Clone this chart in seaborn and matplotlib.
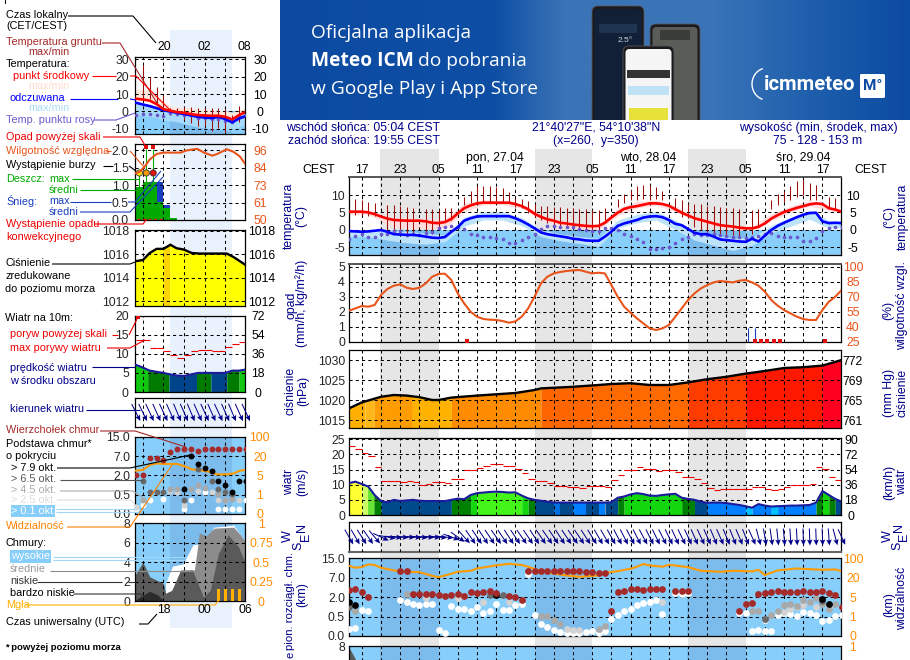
import numpy as np
import matplotlib
matplotlib.use("Agg")
import matplotlib.pyplot as plt
import seaborn as sns
from matplotlib.colors import LinearSegmentedColormap
from matplotlib.patches import FancyBboxPatch, Rectangle

W, H = 910, 660
DASH = (0, (3, 3))
NAVY = "#00008b"
ORANGE = "#ff8c00"
RH_COL = "#e8541a"
SKY = "#87cefa"
SKY_NIGHT = "#7cbcec"
DARKRED = "#a52a2a"
LEFT_FS = 7.8

# ---- main meteogram, hourly from 15:00 ----
hours = list(range(78))
night_bands = [(4.9, 14), (29, 38), (52.9, 62)]
t_mean = [5.2,5.2,5.2,5.0,4.5,3.8,3.2,2.8,2.7,2.6,2.6,2.6,2.4,2.0,1.9,2.2,3.1,4.7,6.2,7.0,7.6,7.8,7.8,7.8,7.8,7.8,7.4,6.8,5.9,4.6,3.7,3.0,2.6,2.0,1.8,1.5,1.3,1.1,1.0,1.1,2.0,3.5,4.9,6.0,6.5,6.8,7.2,7.6,7.6,7.4,6.9,5.9,4.9,4.1,3.3,2.8,2.3,1.8,1.3,1.1,0.9,0.6,0.4,0.4,0.8,1.8,3.2,4.2,5.1,5.7,6.3,6.8,7.3,7.6,7.4,6.2,5.8,5.2]
t_app = [-0.4,-0.5,-0.6,-0.5,-0.3,-0.1,-0.6,-1.3,-1.4,-1.5,-1.5,-1.7,-2.0,-2.3,-2.4,-2.1,-0.6,0.7,2.6,3.3,3.8,3.9,3.9,3.9,3.9,3.9,3.3,2.5,1.5,0.4,-0.8,-1.3,-1.6,-1.9,-2.2,-2.6,-2.8,-3.1,-3.2,-3.2,-2.0,-0.6,1.1,1.8,2.3,2.8,3.5,3.8,3.9,3.6,2.8,1.7,1.3,0.2,-0.9,-1.3,-1.3,-2.0,-2.8,-3.0,-3.2,-3.4,-3.5,-2.6,-3.4,-1.7,-0.1,1.1,2.0,2.8,3.6,4.3,4.8,4.9,2.4,1.9,2.0,1.9]
t_dew = [-2.7,-1.7,-1.3,-2.0,-2.2,-1.1,-1.3,-0.4,-0.4,-1.5,-1.3,-1.5,-0.9,-0.6,0.4,0.9,1.1,0.8,0.1,-1.1,-1.5,-2.2,-2.2,-2.5,-2.6,-3.7,-3.7,-3.1,-2.0,-1.1,0.3,1.1,1.1,0.9,0.9,0.7,0.2,-0.1,-0.4,-0.4,0.4,0.4,-0.1,-1.1,-1.7,-2.8,-3.5,-5.7,-5.7,-5.3,-4.9,-3.8,-2.8,-2.0,-1.3,-1.5,-1.5,-1.3,-1.5,-1.7,-2.0,-2.2,-2.4,-2.2,-1.7,-1.3,-0.9,-1.8,-2.0,-2.0,-2.0,-3.2,-3.2,-2.5,-0.3,0.4,0.7,0.7]
ground_max = [None,8.8,8.6,8.1,7.8,None,7.1,7.1,6.8,6.6,6.4,None,6.0,5.9,5.7,6.2,6.2,None,9.3,11.3,12.6,12.7,12.6,12.4,11.9,10.9,9.0,8.8,8.3,7.3,6.8,6.8,6.6,6.6,6.3,6.3,6.0,5.9,5.7,5.7,6.2,None,8.8,10.3,11.5,12.7,12.9,12.9,12.2,11.3,None,9.0,8.5,7.5,7.5,7.4,6.9,6.8,6.6,6.4,6.2,5.9,None,5.7,5.9,None,8.5,10.3,11.3,12.5,14.0,14.3,13.6,12.9,None,9.3,9.0,None]
ground_min = [None,4.2,4.2,3.9,3.9,None,-0.1,-0.6,-0.6,-1.1,-1.1,None,-1.1,-1.1,-0.1,2.8,2.8,None,7.1,7.6,7.9,8.1,8.1,8.3,8.1,8.1,6.6,6.2,4.9,3.8,2.8,1.8,1.3,1.1,0.9,0.6,0.4,-0.1,-0.6,-1.1,2.8,None,6.6,7.6,8.7,8.7,8.8,8.7,8.8,8.6,None,5.7,3.8,3.3,0.9,-0.1,-0.6,-1.1,-1.1,-1.5,-1.5,-2.0,None,-1.1,0.9,None,5.9,7.1,8.0,8.6,9.5,10.0,8.6,8.6,None,6.2,5.7,None]
band_hours = [0,3,6,9,12,15,18,21,24,27,30,33,36,39,42,45,48,51,54,57,60,63,66,69,72,75,77]
t_max = [5.6,5.5,3.7,3.0,3.0,3.0,7.6,8.6,8.2,7.4,4.3,2.4,1.7,1.4,6.2,8.2,8.5,6.8,3.8,2.2,1.3,1.0,4.6,6.8,8.4,6.7,5.6]
t_min = [4.4,4.4,1.5,0.5,0.4,0.5,5.2,7.2,7.2,6.2,2.8,1.0,0.2,0.0,4.0,6.3,7.0,5.2,2.8,1.0,0.0,-0.3,2.6,5.0,6.8,5.6,4.8]
app_max = [-0.1,0,0,-0.5,-1,-1.5,3.6,5.2,5.2,3.4,0,-1.2,-2,-2.5,2.8,4.4,5.2,2.8,-0.4,-1.4,-2.5,-2.2,1.2,3.6,5.6,2.6,2.4]
app_min = [-2,-2,-3,-3.8,-4.2,-3.5,1,2.8,2.8,1.2,-2,-3.2,-4,-4.8,0.5,2,2.8,0,-3,-4.5,-6,-4.5,-1,1,3,0.5,0.5]

rel_hum = [56,58.3,60.7,60,61.7,71.7,77.7,81,82.3,79,77.7,79,83.3,90,92.7,93,86.7,73.3,63.3,55,50,47.7,47,46.7,45.7,44,45.3,50,58.3,70,83.3,90,93.3,94.7,95.7,96.3,96.7,95,93.3,94,93.3,81.7,70,60,54,48.3,43.3,38.3,36.7,38.3,41.7,50,58.3,66.7,73.3,78.3,81.7,84.3,85.7,85,84.3,86,86.7,84.3,81,75,66.7,61,56.7,53.3,50,47.7,46.7,46.7,56.7,65,70,76.7]
conv_hours = [18.4,63.4,64.4,65.4,66.4,67.4,74.4]
rain_hours = [62.4,63.5]
rain_vals = [0.9,0.9]

press_hours = [0,2,5,7,9,11,13,14,16,20,26,29,30,35,39,41,44,47,50,53,56,59,62,65,68,71,74,77]
press_vals = [1017.9,1019.4,1020.8,1021.25,1021.1,1020.7,1020,1020,1020.6,1021.1,1021.75,1022.5,1022.9,1023.3,1023.75,1024,1024.2,1023.75,1023.75,1024.4,1025.2,1025.8,1026.6,1027.25,1028,1028.2,1028.6,1030]
press_breaks = [0,2.5,3.9,9.9,16,30,38,53,62,74,77]
press_colors = ["#ffb000","#ffb81a","#ff9c00","#ffb300","#ff8c00","#ff6600","#ff6a00","#ff3c00","#ff1800","#ff0020"]

wind = [10.5,11,10.2,9.4,6.6,4.6,4.2,5,4.6,4.8,5,4.7,4.6,4.6,4.6,4.6,5,5.4,5.2,6.6,7.2,7.4,7.6,7.7,7.6,7.4,7.5,6.4,5.5,5,4.7,4.4,4.1,4.1,4.1,4.1,4.1,4.1,4.1,4.1,4.1,4.2,5.7,6.1,6.8,7.2,6.9,6.4,6.3,6.6,6.8,7,5.7,5.3,5,4.4,4,4.1,4.1,3.9,3.6,3.3,2.9,2.4,3.6,3.1,2.8,2.9,3,3.1,3.1,3.2,3.3,4.1,7.9,6.6,5.3,4.4]
gusts = [22.8,21.7,20.4,19.5,15.7,11.2,11.2,11.2,11,11.2,10.8,9.8,10.2,10.8,10.8,10.5,11.9,11.9,14.9,14.9,15.6,16.3,16.9,16.9,16.3,16,15.1,13.8,11.9,11.3,11.3,10.6,9.5,9.5,9.1,9.1,8.8,9.5,9.5,9.5,9.1,11.5,13.2,14.9,14.9,15.7,15.1,15.1,14.4,14.8,14.8,14.2,12.4,12.4,11.8,10.5,9,8.1,8.5,8.5,8.5,8.5,8.5,9.1,9.1,8.6,8.1,8.7,9.4,9.8,9.8,9.8,10.1,15.7,15.1,12.4,11.5]
wind_breaks = [0,2,2.9,3.9,5,16,19,20,27,28,29,32,33,35,37,39,40,42,43,52,54,56,62,63,66,67,73,74,75,76,77]
wind_colors = ["#ffff33","#ccff66","#66e633","#008000","#004a8c","#008000","#13d60f","#44f51a","#13d60f","#008000","#004a8c","#0070e0","#004a8c","#0080ff","#004a8c","#0080ff","#004a8c","#008000","#13d60f","#008000","#004a8c","#0080ff","#00c0ff","#0080ff","#00c0ff","#0080ff","#008000","#13d60f","#008000","#004a8c"]
wind_dir = [330,330,328,325,320,295,280,275,274,273,274,275,273,274,275,276,290,305,318,325,326,327,326,325,326,327,326,325,326,327,326,325,326,327,326,325,326,327,328,330,330,331,332,333,332,333,332,333,334,333,334,335,334,335,336,335,336,337,336,337,338,337,338,336,345,350,352,354,355,356,357,358,358,358,358,356,345,335]

# cloud panel: values are positions on the evenly spaced tick ladder 0 / 0.5 / 2 / 7 / 15
top_hours = [0,1,2,3,8,9,10,11,12,13,14,15,16,17,18,19,20,21,22,23,25,26,27,28,29,30,31,32,33,34,35,36,37,38,39,40,41,42,43,44,45,46,47,48,49,51,52,53,61,62,63,64,65,66,67,68,69,70,71,72,73,74,75,76,77]
top_lvls = [2.36,2.40,2.28,2.03,3.36,3.36,2.19,2.19,2.19,2.16,2.09,2.05,2.09,2.14,2.07,2.26,2.24,2.26,2.31,2.21,2.05,2.02,1.84,3.36,3.34,3.36,3.34,3.36,3.36,3.36,3.36,3.34,3.29,3.29,3.24,3.24,1.31,2.26,2.34,2.40,2.40,2.36,2.41,2.40,2.40,2.34,2.34,2.34,1.29,1.64,1.71,2.14,2.24,2.28,2.31,2.28,2.26,2.26,2.31,2.28,2.28,2.31,2.22,2.09,1.47]
white_hours = [0,1,2,3,8,9,10,11,12,13,14,15,16,17,18,19,20,21,22,23,24,25,26,27,28,29,30,31,32,33,34,35,36,37,38,39,40,41,42,43,44,45,46,47,48,49,51,52,53,61,62,63,64,65,65,66,67,68,69,70,71,72,73,74,75,76,77]
white_lvls = [0.34,0.41,1.33,1.28,1.83,1.74,1.66,1.59,1.67,1.67,0.29,0.17,1.55,1.41,1.41,1.31,1.5,1.16,1.28,1.67,1.33,1.33,1.59,1.67,3.19,1.07,0.6,0.47,0.29,0.2,0.16,0.16,0.16,0.2,0.24,0.16,0.26,0.86,1.1,1.28,1.41,1.59,1.72,1.76,1.84,1.14,2.21,2.19,2.22,1.19,1.19,0.24,0.33,0.24,0.81,0.28,1.1,1.19,1.14,1.03,1.24,1.16,1.07,0.76,0.83,1.03,1.1]
light_hours = [12,17,21,25,34,35,36,49,68,69,70,71,73,75]
light_lvls = [1.97,1.98,1.76,1.76,0.38,0.29,0.29,1.76,1.24,1.41,1.5,1.59,1.5,1.5]
gray_hours = [1,9,30,31,32,33,39,40,63,64,65,66,67,68,69,70,71,72,73,74,75,76]
gray_lvls = [1.29,2.16,1.03,1.03,0.81,0.64,0.36,0.52,1.28,1.28,0.9,1.1,1.28,1.62,1.67,1.55,1.84,1.76,1.97,1.67,1.41,1.67]
dgray_hours = [0,22,24,65,74]
dgray_lvls = [1.5,2.1,2.1,0.9,1.78]
black_hours = [0,1,23,74,75]
black_lvls = [1.76,1.59,2.1,1.93,1.67]
vis_hours = [0,1,2,3,4,5,7,9,11,13,14,16,17,19,20,23,25,27,28,30,32,34,36,39,40,42,44,45,46,47,49,50,53,55,58,60,63,64,65,67,70,74,76,77]
vis_lvls = [3.62,3.52,3.55,3.69,3.66,3.52,3.38,3.31,3.29,3.10,3.03,3.21,3.31,3.36,3.48,3.64,3.72,3.66,3.57,3.34,3.22,3.12,3.05,3.12,3.26,3.34,3.47,3.57,3.71,3.64,3.57,3.67,3.55,3.36,3.31,3.36,3.33,3.41,3.14,3.38,3.48,3.41,3.43,3.34]
lowest_hours = [0,1,2,3]
lowest_cloud = [7.9,6.7,5.5,4.4]

# ---- legend meteogram on the left ----
lg_hours = list(range(-1, 16))
lg_mean = [7.3,6.9,6.2,4.2,1.3,0.4,-0.4,-0.8,-1.5,-2.1,-2.3,-2.5,-2.5,-3.1,-4.6,-2.1,-0.2]
lg_app = [5,4,3.1,1.9,0.6,0,-0.8,-1.5,-2.3,-3.1,-3.5,-3.8,-3.1,-4.4,-6.3,-4,-2.7]
lg_dew = [-2.1,-1.2,-1.5,-2.1,-2.7,-0.8,-1.2,-2.1,-2.1,-3.5,-4,-4.6,-4.6,-5.4,-6,-3.1,-2.1]
lg_tmax = [13,12.5,12,9,6,3,2.5,2.4,2,1.5,1.2,1,0.6,0.5,-0.5,1,2]
lg_alow = [-2,-2.5,-3,-3.5,-5,-5.5,-6,-7,-8,-9,-9.5,-10,-10,-10.5,-11,-9,-7]
lg_gr_hours = list(range(0, 15))
lg_gr_max = [26.7,19.6,13.8,9.4,1.7,1.7,2.3,2.3,1.7,1.7,1.7,1.7,1.2,-2.1,3.1]
lg_gr_min = [6.9,6.9,4.2,1.7,-2.1,-2.1,-5,-6.5,-8.5,-8.5,-11.2,-9.8,-12.7,-6.9,-6]

lg_rain_hours = [-1,0,1,2,3,4]
lg_rain = [0.96,1.1,1.1,0.53,0.34,0.07]
lg_snow = [0,0,0,1.1,0.43,0]
lg_rh_hours = [-1.1,-0.4,0.4,1,2,3,4,5.5,6.4,7.9,8.9,10.1,10.8,12.2,13.2,14.1,14.9]
lg_rh = [80.8,82,86,90,93.6,94.5,94.5,94.5,96,97,94.5,92.5,93.6,96.7,95,92,87]

lg_press_hours = [-1.1,0,1,2,3,4,4.9,5.9,7.1,8.3,12.2,13.2,14.9]
lg_press = [1015.4,1015.5,1016.1,1016.45,1016.45,1016.8,1016.5,1016.4,1016.1,1016.05,1016.05,1015.75,1015.1]
lg_press_breaks = [-1.1,3,3.9,14.9]
lg_press_colors = ["#ffff00","#ffd500","#ffff00"]

lg_wind = [7.1,6.4,5.6,5.3,5,4.6,4.3,4.2,4.6,5,5,5,5,5,5.6,5.6,5.9]
lg_gusts = [13.6,13.6,11.65,11.65,10.7,9.65,9,9.8,10.7,11,11,10.7,10.7,11.7,12.7,13]
lg_wind_breaks = [-1.1,0.7,3.8,7.8,9.9,12.2,14,14.9]
lg_wind_colors = ["#11c811","#007b00","#00458c","#007b00","#00458c","#007b00","#13c813"]
lg_dir = [333,334,335,336,335,336,337,336,337,336,335,336,335,336,337,336,335]

lg_top = [2.02,2.02,2.88,2.88,2.79,3.22,3.34,3.34,3.34,3.26,3.34,3.34,3.34,3.34,3.34,3.34,3.34]
lg_black_h = [6,7,8,9,10,11,12,13,14,15]
lg_black = [1.28,3.0,2.57,2.36,2.24,1.71,1.5,1.16,1.69,1.71]
lg_dgray_h = [0,1,2,3,6,8,10,11,12,13]
lg_dgray = [1.69,1.14,1.14,1.14,0.72,2.33,1.71,1.28,1.16,1.03]
lg_gray_h = [0,4,5,7,8,9,11,12,13,15]
lg_gray = [0.72,1.28,1.28,1.28,1.5,1.33,1.05,0.72,0.76,1.71]
lg_light_h = [-1,4,5,6,8,10,11,12,14]
lg_light = [0.38,1.21,1.16,0.47,1.21,1.16,0.72,0.72,0.72]
lg_white_h = [-1,0,1,3,6,7,9,11,12,13,14,15]
lg_white = [0.24,0.45,0.72,0.78,0.24,0.72,1.16,0.24,0.24,0.24,0.24,0.72]
lg_vis_hours = [-1.1,0,1,2,3,5,6.2,7.1,8.4,9.6,10.8,12.2,13.2,14.1,14.9]
lg_vis = [2.24,2.28,2.53,2.62,2.59,2.59,2.45,2.31,2.26,2.19,2.05,2.05,2.10,2.24,2.28]

cl_hi_h = [3.3,4.3,5.8,7.3,9.3,10.3,13.2,14.9]
cl_hi = [1.8,3.6,3.8,5.8,5.9,7.6,7.8,6.1]
cl_mid_h = [6.9,7.5,8,8.2,9.2,10.4,13.2,14.2,14.9]
cl_mid = [3.2,3.2,5.8,7.0,6.7,7.5,7.6,6.8,6.1]
cl_low_h = [-1.1,0,1,3,3.3,4.2,5.5,7.2,8,8.8,9.8,11,12.4,13.9,14.9]
cl_low = [2.7,4,2.5,1.8,0.8,1.1,3.2,3.2,1.8,0.4,1.1,4.9,6.8,5.6,3.9]
cl_vlow_h = [-1.1,0,1,2.2,3]
cl_vlow = [0.1,0.6,1,0.6,0]
fog_hours = [11,12,13,14.1]
fog_vals = [1.2,1.2,1.2,1.2]

sns.set_style("white")
plt.rcParams["font.family"] = ["Liberation Sans", "DejaVu Sans"]
plt.rcParams["font.size"] = 8.8

fig = plt.figure(figsize=(W / 100, H / 100), dpi=100)


def pixel_axes(zorder):
    ax = fig.add_axes([0, 0, 1, 1], facecolor="none", zorder=zorder)
    ax.set_axis_off()
    return ax


def panel(box, xlim, xgrid, yticks, ylabels, ylim, pad=4):
    x0, y0, x1, y1 = box
    ax = fig.add_axes([x0 / W, 1 - y1 / H, (x1 - x0) / W, (y1 - y0) / H], facecolor="none", zorder=2)
    ax.set_xlim(xlim)
    ax.set_ylim(ylim)
    ax.set_xticks(xgrid)
    ax.set_xticklabels([])
    ax.set_yticks(yticks)
    ax.set_yticklabels(ylabels)
    ax.tick_params(length=0, pad=pad * 0.72, labelsize=8.8)
    ax.grid(True, color="black", lw=0.75, ls=DASH)
    ax.set_axisbelow(False)
    for s in ax.spines.values():
        s.set_color("black")
        s.set_linewidth(0.9)
    return ax


def right_axis(ax, ticks, labels, ylim, color="black", center=12):
    tw = ax.twinx()
    tw.set_facecolor("none")
    tw.grid(False)
    tw.set_ylim(ylim)
    tw.set_yticks(ticks)
    tw.set_yticklabels(labels, color=color)
    tw.tick_params(length=0, pad=center * 0.72, labelsize=8.8)
    plt.setp(tw.get_yticklabels(), ha="center")
    for s in tw.spines.values():
        s.set_visible(False)
    return tw


def strips(ax, xs, ys, breaks, colors, bottom):
    for a, b, c in zip(breaks[:-1], breaks[1:], colors):
        seg = np.r_[a, [x for x in xs if a < x < b], b]
        ax.fill_between(seg, np.interp(seg, xs, ys), bottom, color=c, lw=0, zorder=1)


def line(ax, xs, ys, color, lw, z=3):
    sns.lineplot(x=xs, y=ys, color=color, linewidth=lw, ax=ax, zorder=z, errorbar=None, legend=False)
    ax.set_xlabel("")
    ax.set_ylabel("")


def dots(ax, xs, ys, color, s=24, z=4):
    sns.scatterplot(x=xs, y=ys, color=color, s=s, linewidth=0, ax=ax, zorder=z, legend=False, clip_on=True)
    ax.set_xlabel("")
    ax.set_ylabel("")


def arrows(ax, xs, deg, length):
    rad = np.radians(deg)
    ax.quiver(xs, np.zeros(len(xs)), -length * np.sin(rad), -length * np.cos(rad), pivot="mid", angles="uv",
              scale_units="dots", scale=1, units="dots", width=1.0, headwidth=5.5, headlength=6, headaxislength=5,
              color="#00008b", zorder=3, clip_on=False)


# ---- background ----
back = pixel_axes(0)
cmap = LinearSegmentedColormap.from_list("banner", [(0, "#0b4aa0"), (0.34, "#0e4fa5"), (0.45, "#3a73b6"), (0.68, "#3a75b8"),
                                                    (0.86, "#1c5cab"), (1, "#0c4ba2")])
back.imshow(np.linspace(0, 1, 256).reshape(1, -1), extent=(280, 910, 120, 0), aspect="auto", cmap=cmap)
back.set_xlim(0, W)
back.set_ylim(H, 0)
back.add_patch(Rectangle((170, 30), 62, 598, color="#e9f1fc", lw=0))
back.plot([5, 5], [0, 3], color="black", lw=0.8)


# phones on the banner
def phone(x, y, w, h, screen):
    back.add_patch(FancyBboxPatch((x, y), w, h, boxstyle="round,pad=0,rounding_size=6", fc="#1b1b1f", ec="#55555a", lw=0.6))
    back.add_patch(FancyBboxPatch((x + 2.5, y + 3), w - 5, h - 3, boxstyle="round,pad=0,rounding_size=4", fc=screen, ec="none"))


phone(592, 6, 52, 130, "#112036")
phone(650, 24, 50, 110, "#5a5c58")
phone(623, 46, 51, 90, "#f5f5f5")
back.add_patch(Rectangle((599, 24), 38, 9, color="#1e3450", lw=0))
back.add_patch(Rectangle((627, 70), 43, 8, color="#333333", lw=0))
back.add_patch(Rectangle((628, 86), 41, 9, color="#bfe3f5", lw=0))
back.add_patch(Rectangle((629, 108), 39, 12, color="#e6e23a", lw=0))
back.add_patch(Rectangle((660, 30), 30, 10, color="#3a3c3a", lw=0))
back.add_patch(Rectangle((280, 120), 630, 29, color="white", lw=0))
back.add_patch(FancyBboxPatch((860, 74), 25, 24, boxstyle="round,pad=0,rounding_size=1.5", fc="white", ec="none"))
t_arc = np.linspace(1.9, 4.4, 30)
back.plot(767 + 15 * np.cos(t_arc), 84 + 16 * np.sin(t_arc), color="white", lw=1)
for a, b in night_bands:
    back.add_patch(Rectangle((349 + 6.4 * a, 149), 6.4 * (b - a), 511, color="#e6e6e6", lw=0))

# ---- main panels ----
M_X = (0, 76.9)
M_G = list(range(2, 77, 3))

ax = panel((349, 177, 841, 255), M_X, M_G, [10, 5, 0, -5], ["10", "5", "0", "-5"], (-7.3, 15.2))
ax.spines["top"].set_color("#555555")
ax.spines["top"].set_linewidth(1.4)
ax.fill_between(hours, 0, -7.3, color=SKY, lw=0, zorder=1)
for a, b in night_bands:
    ax.fill_between([a, b], 0, -7.3, color=SKY_NIGHT, lw=0, zorder=1)
ax.fill_between(band_hours, app_min, app_max, color="#bde3fb", lw=0, zorder=1.2)
ax.fill_between(band_hours, t_min, t_max, color="#ffdcdc", lw=0, zorder=1.3)
ax.vlines(hours, np.array(ground_min, dtype=float), np.array(ground_max, dtype=float), color="#a00c0c", lw=0.75, zorder=3)
dots(ax, hours, t_dew, "#6a5acd", s=7)
line(ax, hours, t_app, "#0000ff", 1.9, 5)
line(ax, hours, t_mean, "#ff0000", 1.9, 5)
right_axis(ax, [10, 5, 0, -5], ["10", "5", "0", "-5"], (-7.3, 15.2))

ax = panel((349, 264, 841, 342), M_X, M_G, [0, 1, 2, 3, 4, 5], list("012345"), (-0.02, 5.18))
ax.spines["top"].set_color("#555555")
ax.spines["top"].set_linewidth(1.4)
tw = right_axis(ax, [25, 40, 55, 70, 85, 100], ["25", "40", "55", "70", "85", "100"], (24.7, 102.7), color=RH_COL)
line(tw, hours, rel_hum, RH_COL, 1.5)
ax.vlines(rain_hours, 0, rain_vals, color="#1a3ec0", lw=0.8, zorder=3)
sns.scatterplot(x=conv_hours, y=[0.03] * len(conv_hours), color="#e01010", marker="s", s=6, linewidth=0, ax=ax, zorder=4, legend=False)

ax = panel((349, 350, 841, 428), M_X, M_G, [1015, 1020, 1025, 1030], ["1015", "1020", "1025", "1030"], (1013, 1032.5))
strips(ax, press_hours, press_vals, press_breaks, press_colors, 1013)
line(ax, press_hours, press_vals, "black", 1.7)
right_axis(ax, [1015, 1020, 1025, 1030], ["761", "765", "769", "772"], (1013, 1032.5))

ax = panel((349, 438, 841, 515), M_X, M_G, [0, 5, 10, 15, 20, 25], ["0", "5", "10", "15", "20", "25"], (0, 25.4))
strips(ax, hours, wind, wind_breaks, wind_colors, 0)
line(ax, hours, wind, "#1a1a9c", 1.5)
ax.hlines(gusts, hours[:-1], hours[1:], color="#ee0000", lw=0.8, zorder=3)
right_axis(ax, [0, 5, 10, 15, 20, 25], ["0", "18", "36", "54", "72", "90"], (0, 25.4), center=10)

ax = panel((349, 522, 841, 552), M_X, M_G, [], [], (-1, 1))
ax.spines["bottom"].set_color("#666666")
ax.spines["bottom"].set_linewidth(1.5)
arrows(ax, hours, wind_dir, 17)

C_TICKS = [0, 1, 2, 3, 4]
ax = panel((349, 558, 841, 636), M_X, M_G, C_TICKS, ["0.0", "0.5", "2.0", "7.0", "15.0"], (0, 4.02))
ax.set_facecolor(SKY)
for a, b in night_bands:
    ax.axvspan(a, b, color=SKY_NIGHT, lw=0, zorder=1)
tw = right_axis(ax, C_TICKS, ["0", "1", "5", "20", "100"], (0, 4.02), color=ORANGE)
tw.set_zorder(ax.get_zorder() - 0.1)
line(ax, vis_hours, vis_lvls, "#ff9a00", 1.5)
dots(ax, white_hours, white_lvls, "white")
dots(ax, light_hours, light_lvls, "#d3d3d3")
dots(ax, gray_hours, gray_lvls, "#a9a9a9")
dots(ax, dgray_hours, dgray_lvls, "#696969")
dots(ax, black_hours, black_lvls, "black")
dots(ax, top_hours, top_lvls, DARKRED)

# only the top of this panel fits in the picture
ax = panel((349, 646, 841, 724), M_X, M_G, [8], ["8"], (0, 8.05))
ax.set_facecolor(SKY)
ax.set_yticks([2, 4, 6, 8])
ax.set_yticklabels(["", "", "", "8"])
for a, b in night_bands:
    ax.axvspan(a, b, color=SKY_NIGHT, lw=0, zorder=1)
ax.fill_between(lowest_hours, lowest_cloud, 0, color="#5a5a5a", lw=0, zorder=1.5)
right_axis(ax, [8], ["1"], (0, 8.05), color=ORANGE)

# ---- legend panels ----
L_X = (-1.1, 14.9)
L_G = [0, 3, 6, 9, 12]
L_N = (3.93, 12.95)

ax = panel((135.3, 57.3, 245.3, 134), L_X, L_G, [-10, 0, 10, 20, 30], ["-10", "0", "10", "20", "30"], (-13, 31.2), pad=6.5)
ax.fill_between(lg_hours, 0, -13, color=SKY, lw=0, zorder=1)
ax.fill_between(L_N, 0, -13, color=SKY_NIGHT, lw=0, zorder=1)
ax.fill_between(lg_hours, lg_alow, lg_app, color="#a8dbfb", lw=0, zorder=1.2)
ax.fill_between(lg_hours, lg_mean, lg_tmax, color="#ffe6da", lw=0, zorder=1.3)
ax.vlines(lg_gr_hours, lg_gr_min, lg_gr_max, color="#a00c0c", lw=0.75, zorder=3)
dots(ax, lg_hours, lg_dew, "#6a5acd", s=7)
line(ax, lg_hours, lg_app, "#0000ff", 1.9, 5)
line(ax, lg_hours, lg_mean, "#ff0000", 1.9, 5)
right_axis(ax, [-10, 0, 10, 20, 30], ["-10", "0", "10", "20", "30"], (-13, 31.2), center=15)

ax = panel((135.3, 143.7, 245.3, 220), L_X, L_G, [0, 0.5, 1, 1.5, 2], ["0.0", "0.5", "1.0", "1.5", "2.0"], (0, 2.19), pad=6.5)
tw = right_axis(ax, [50, 61.5, 73, 84.5, 96], ["50", "61", "73", "84", "96"], (50, 100.4), color=RH_COL, center=15)
ax.bar(lg_rain_hours, lg_snow, width=1, align="edge", color="#1a3ec0", lw=0, zorder=1.4)
ax.bar(lg_rain_hours, lg_rain, width=1, align="edge", color="#00aa00", lw=0, zorder=1.5)
line(tw, lg_rh_hours, lg_rh, RH_COL, 1.5)
storm_x = [-0.5, 0.5, 1.5]
ax.vlines(storm_x, [0.95, 1.1, 1.1], [1.35, 2.05, 2.05], color="#00aa00", lw=0.8, zorder=3)
sns.scatterplot(x=storm_x, y=[1.35] * 3, hue=storm_x, palette=["#ffe600", "#ff9900", "#e01010"], s=20, edgecolor="#333333",
                linewidth=0.6, ax=ax, zorder=5, legend=False)
sns.scatterplot(x=storm_x[1:], y=[2.1, 2.1], color="#e01010", marker="s", s=8, linewidth=0, ax=ax, zorder=5, legend=False)
ax.hlines([0.02], -0.9, 3, color="#e01010", lw=1, ls=(0, (2, 2)), zorder=3)
ax.set_xlabel("")
ax.set_ylabel("")

p_ticks = [1012, 1014, 1016, 1018]
p_lab = ["1012", "1014", "1016", "1018"]
ax = panel((135.3, 230, 245.3, 306), L_X, L_G, p_ticks, p_lab, (1011.6, 1018.05), pad=6.5)
strips(ax, lg_press_hours, lg_press, lg_press_breaks, lg_press_colors, 1011.6)
line(ax, lg_press_hours, lg_press, "black", 1.7)
right_axis(ax, p_ticks, p_lab, (1011.6, 1018.05), center=16)

w_ticks = [0, 5, 10, 15, 20]
ax = panel((135.3, 315.7, 245.3, 392), L_X, L_G, w_ticks, ["0", "5", "10", "15", "20"], (0, 20), pad=6.5)
strips(ax, lg_hours, lg_wind, lg_wind_breaks, lg_wind_colors, 0)
line(ax, lg_hours, lg_wind, "#1a1a9c", 1.5)
ax.hlines(lg_gusts, lg_hours[:-1], lg_hours[1:], color="#ee0000", lw=0.8, zorder=3)
sns.scatterplot(x=[-0.65], y=[19.7], color="#e01010", marker="s", s=6, linewidth=0, ax=ax, zorder=5, legend=False)
ax.set_xlabel("")
ax.set_ylabel("")
right_axis(ax, w_ticks, ["0", "18", "36", "54", "72"], (0, 20), center=13)

ax = panel((135.3, 398, 245.3, 427), L_X, L_G, [], [], (-1, 1))
arrows(ax, lg_hours, lg_dir, 19)

ax = panel((135.3, 436.7, 245.3, 514), L_X, L_G, C_TICKS, ["0.0", "0.5", "2.0", "7.0", "15.0"], (0, 4.0), pad=5)
ax.set_facecolor(SKY)
ax.axvspan(*L_N, color=SKY_NIGHT, lw=0, zorder=1)
tw = right_axis(ax, C_TICKS, ["0", "1", "5", "20", "100"], (0, 4.0), color=ORANGE, center=14.5)
tw.set_zorder(ax.get_zorder() - 0.1)
line(ax, lg_vis_hours, lg_vis, "#ff9a00", 1.5)
dots(ax, lg_white_h, lg_white, "white", s=18)
dots(ax, lg_light_h, lg_light, "#d3d3d3", s=18)
dots(ax, lg_gray_h, lg_gray, "#a9a9a9", s=18)
dots(ax, lg_dgray_h, lg_dgray, "#696969", s=18)
dots(ax, lg_black_h, lg_black, "black", s=18)
dots(ax, lg_hours, lg_top, DARKRED, s=18)

ax = panel((135.3, 523.3, 245.3, 601), L_X, L_G, [0, 2, 4, 6, 8], ["0", "2", "4", "6", "8"], (0, 8.0), pad=5)
ax.set_facecolor(SKY)
ax.axvspan(*L_N, color=SKY_NIGHT, lw=0, zorder=1)
ax.fill_between(cl_hi_h, cl_hi, 0, color="white", lw=0, zorder=1.2)
ax.fill_between(cl_mid_h, cl_mid, 0, color="#8c8c8c", lw=0, zorder=1.3)
ax.fill_between(cl_low_h, cl_low, 0, color="#5a5a5a", lw=0, zorder=1.4)
ax.fill_between(cl_vlow_h, cl_vlow, 0, color="#2b2b2b", lw=0, zorder=1.5)
ax.bar(fog_hours, fog_vals, width=0.42, color="#ffb000", lw=0, zorder=3)
right_axis(ax, [0, 2, 4, 6, 8], ["0", "0.25", "0.5", "0.75", "1"], (0, 8.0), color=ORANGE, center=16)

# ---- texts and connectors ----
top = pixel_axes(5)
top.set_xlim(0, W)
top.set_ylim(H, 0)


def txt(x, y, s, color="black", ha="left", **kw):
    top.text(x, y, s, color=color, ha=ha, va="center", fontsize=kw.pop("fontsize", 8.8), **kw)


def conn(points, color="black", lw=0.8):
    xs, ys = zip(*points)
    top.plot(xs, ys, color=color, lw=lw, solid_capstyle="butt")


left_labels = [
    (6, 15, "Czas lokalny", "black"), (6, 26, "(CET/CEST)", "black"),
    (6, 42, "Temperatura gruntu", DARKRED), (28, 52, "max/min", DARKRED), (6, 64, "Temperatura:", "black"),
    (13, 76, "punkt środkowy", "#ff0000"), (28, 86, "max/min", "#ffdccc"), (10, 98, "odczuwana", "#0000ff"),
    (28, 108, "max/min", "#a8dcfb"), (6, 120, "Temp. punktu rosy", "#6a5acd"), (6, 137, "Opad powyżej skali", "#ee0000"),
    (6, 151, "Wilgotność względna", RH_COL), (6, 165, "Wystąpienie burzy", "black"), (6, 179, "Deszcz:", "#00aa00"),
    (49, 179, "max", "#00aa00"), (49, 190, "średni", "#00aa00"), (6, 201, "Śnieg:", "#1a3ec0"), (49, 201, "max", "#1a3ec0"),
    (49, 212, "średni", "#1a3ec0"), (6, 224, "Wystąpienie opadu", "#ee0000"), (6, 237, "konwekcyjnego", "#ee0000"),
    (5, 263, "Ciśnienie", "black"), (5, 276, "zredukowane", "black"), (5, 289, "do poziomu morza", "black"),
    (5, 318, "Wiatr na 10m:", "black"), (10, 334, "poryw powyżej skali", "#ee0000"), (10, 348, "max porywy wiatru", "#ee0000"),
    (10, 368, "prędkość wiatru", "#00008b"), (10, 381, "w środku obszaru", "#00008b"), (10, 409, "kierunek wiatru", "#00008b"),
    (6, 430, "Wierzchołek chmur", DARKRED), (6, 444, "Podstawa chmur*", "black"), (6, 456, "o pokryciu", "black"),
    (11, 468, "> 7.9 okt.", "black"), (11, 479, "> 6.5 okt.", "#555555"), (11, 490, "> 4.5 okt.", "#a9a9a9"),
    (11, 500, "> 2.5 okt.", "#dddddd"), (6, 526, "Widzialność", "#ff8000"), (6, 543, "Chmury:", "black"),
    (10, 569, "średnie", "#9a9a9a"), (10, 581, "niskie", "#333333"), (10, 593, "bardzo niskie", "black"),
    (6, 605, "Mgła", "#ffb000"), (6, 622, "Czas uniwersalny (UTC)", "black"),
]
for x, y, s, c in left_labels:
    txt(x, y, s, c, fontsize=LEFT_FS)
top.add_patch(Rectangle((11, 505), 44, 12, color=SKY, lw=0))
txt(11, 511, "> 0.1 okt.", "white", fontsize=LEFT_FS)
top.add_patch(Rectangle((10, 550), 41, 13, color=SKY, lw=0))
txt(11, 556, "wysokie", "white", fontsize=LEFT_FS)
txt(5, 648, "* powyżej poziomu morza", "black", fontsize=6.8, fontweight="bold")

for x, s in zip([164, 204, 244], ["20", "02", "08"]):
    txt(x, 47, s, ha="center")
for x, s in zip([164, 204, 245], ["18", "00", "06"]):
    txt(x, 610, s, ha="center")

conn([(68, 16), (133, 16), (156, 43)])
conn([(102, 43), (120, 43), (157, 103)], DARKRED)
conn([(92, 76), (116, 76)], "#ff0000")
conn([(130, 76), (136, 76), (172, 112)], "#ff0000")
conn([(70, 99), (118, 99)], "#0000ff")
conn([(130, 99), (136, 100)], "#0000ff")
conn([(94, 120), (116, 120), (135, 113)], "#6a5acd")
conn([(103, 137), (140, 137), (146, 147)], "#ee0000")
conn([(106, 151), (111, 151)], RH_COL)
conn([(130, 151), (144, 167)], RH_COL)
conn([(103, 166), (113, 166)])
conn([(129, 166), (136, 171)])
conn([(72, 179), (139, 179)], "#00aa00")
conn([(80, 190), (146, 190)], "#00aa00")
conn([(70, 202), (111, 202)], "#1a3ec0")
conn([(128, 202), (135, 202), (161, 171)], "#1a3ec0")
conn([(80, 212), (130, 212), (163, 177)], "#1a3ec0")
conn([(95, 224), (143, 224), (147, 219)], "#ee0000")
conn([(52, 264), (130, 264), (135, 262)])
conn([(112, 335), (118, 335)], "#ee0000")
conn([(129, 335), (138, 317)], "#ee0000")
conn([(107, 348), (130, 348), (145, 340)], "#ee0000")
conn([(92, 367), (135, 367)], "#00008b")
conn([(86, 410), (140, 410)], "#00008b")
conn([(100, 431), (135, 431), (186, 447)], DARKRED)
conn([(57, 468), (130, 468), (190, 455)])
conn([(60, 480), (143, 480)], "#555555")
conn([(60, 491), (133, 491), (146, 500)], "#a9a9a9")
conn([(57, 500), (131, 500), (137, 507)], "#dddddd")
for y in (509, 511.5):
    conn([(56, y), (136, y)], "#9fd8fb")
conn([(67, 527), (130, 527), (172, 465)], "#ff8000")
for y in (557, 559.5):
    conn([(53, y), (186, y)], "#9fd8fb")
conn([(50, 571), (193, 571)], "#8c8c8c")
conn([(37, 582), (122, 582)], "#333333")
conn([(128, 582), (135, 582)], "#333333")
conn([(74, 594), (140, 594), (150, 598)], "#333333")
conn([(26, 605), (215, 605), (219, 600)], "#ffb000")
conn([(139, 624), (148, 624), (157, 614)])

# header of the main chart
txt(286, 128, "wschód słońca: 05:04 CEST", NAVY)
txt(288, 141, "zachód słońca: 19:55 CEST", NAVY)
txt(596, 128, "21°40'27\"E, 54°10'38\"N", NAVY, ha="center")
txt(596, 141, "(x=260,  y=350)", NAVY, ha="center")
txt(818, 128, "wysokość (min, środek, max)", NAVY, ha="center")
txt(818, 141, "75 - 128 - 153 m", NAVY, ha="center")
for x, s in zip([495, 648, 803], ["pon, 27.04", "wto, 28.04", "śro, 29.04"]):
    txt(x, 158, s, ha="center")
txt(319, 170, "CEST", ha="center")
txt(871, 170, "CEST", ha="center")
for h, s in zip(range(2, 75, 6), ["17", "23", "05", "11", "17", "23", "05", "11", "17", "23", "05", "11", "17"]):
    txt(349 + 6.4 * h, 170, s, ha="center")

side_labels = [
    (289, 216, "temperatura"), (301, 216, "(°C)"), (903, 217, "temperatura"), (889, 217, "(°C)"),
    (291, 305, "opad"), (302, 303, "(mm/h, kg/m²/h)"), (888, 310, "(%)"), (902, 305, "wilgotność wzgl."),
    (290, 391, "ciśnienie"), (303, 391, "(hPa)"), (889, 393, "(mm Hg)"), (902, 393, "ciśnienie"),
    (289, 482, "wiatr"), (302, 482, "(m/s)"), (889, 482, "(km/h)"), (902, 482, "wiatr"),
    (302, 595, "(km)"), (889, 605, "(km)"), (902, 598, "widzialność"),
]
for x, y, s in side_labels:
    txt(x, y, s, NAVY, ha="center", rotation=90)
txt(290, 601, "pion. rozciągł. chm.", NAVY, ha="center", rotation=90, fontsize=8.2)
txt(290, 655, "e", NAVY, ha="center", rotation=90, fontsize=8.2)
for x, y, s in [(288, 536, "W"), (298, 546, "S"), (302, 527, "N"), (306, 537, "E"),
                (888, 536, "W"), (897, 546, "S"), (899, 527, "N"), (904, 537, "E")]:
    txt(x, y, s, NAVY, ha="center", rotation=90, fontsize=9)

# banner text
txt(311, 33, "Oficjalna aplikacja", "white", family="Open Sans", fontsize=13.8)
txt(311, 61, "Meteo ICM", "white", family="Open Sans", fontsize=13.8, fontweight="bold")
txt(418, 61, "do pobrania", "white", family="Open Sans", fontsize=13.8)
txt(311, 89, "w Google Play i App Store", "white", family="Open Sans", fontsize=13.8)
txt(764, 85, "icmmeteo", "white", family="Roboto", fontsize=14.6, fontweight="bold")
txt(872.5, 86, "M°", "#0c4ba2", ha="center", family="Roboto", fontsize=11, fontweight="bold")
txt(625, 41, "2.5°", "#c8d4e0", ha="center", fontsize=6)

fig.savefig("out.png", dpi=100)
